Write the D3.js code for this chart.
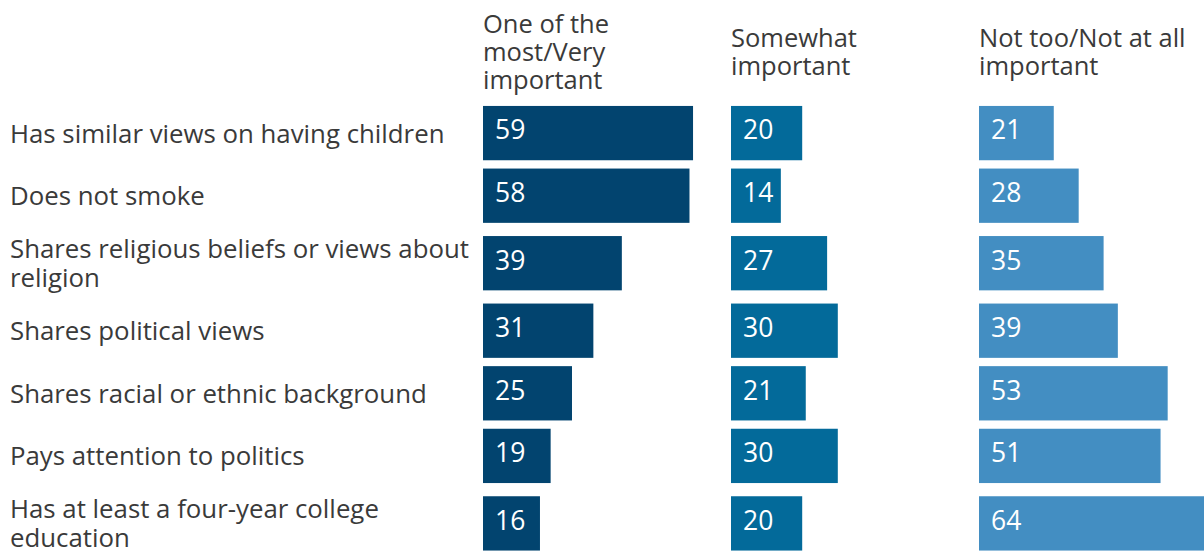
<!DOCTYPE html>
<html>
<head>
<meta charset="utf-8">
<script src="https://cdn.jsdelivr.net/npm/d3@7"></script>
<style>
  html, body { margin: 0; padding: 0; background: #fff; }
  svg { display: block; }
  text { font-family: "Open Sans", "Noto Sans", sans-serif; }
</style>
</head>
<body>
<svg id="chart" width="1204" height="551"></svg>
<script>
// Traits asked about (label lines split with \n)
const categories = [
  "Has similar views on having children",
  "Does not smoke",
  "Shares religious beliefs or views about\nreligion",
  "Shares political views",
  "Shares racial or ethnic background",
  "Pays attention to politics",
  "Has at least a four-year college\neducation"
];

// Column headings, one entry per series
const seriesLabels = [
  ["One of the", "most/Very", "important"],
  ["Somewhat", "important"],
  ["Not too/Not at all", "important"]
];

// Percent answering in each importance bucket
const veryImportant     = [59, 58, 39, 31, 25, 19, 16];
const somewhatImportant = [20, 14, 27, 30, 21, 30, 20];
const notImportant      = [21, 28, 35, 39, 53, 51, 64];

const seriesValues = [veryImportant, somewhatImportant, notImportant];
const seriesColors = ["#02446f", "#036a9a", "#438ec2"];

const svg = d3.select("#chart");

// Layout
const labelX = 10;
const firstColX = 483;
const colStep = 248;
const barH = 54.3;
const rowTop = 101.8;
const rowH1 = 62.6;   // row with a one-line label
const rowH2 = 72.4;   // row with a two-line label
const labelLineH = 29.2;
const headLineH = 27.8;
const headMid = 61;

// Value scale shared by all three columns
const x = d3.scaleLinear().domain([0, 100]).range([0, 356]);

// Column position scale
const col = d3.scaleBand()
  .domain(d3.range(seriesLabels.length))
  .range([firstColX, firstColX + colStep * seriesLabels.length])
  .paddingInner(0).paddingOuter(0);

// Row geometry: rows with wrapped labels get more room
const rows = categories.map(c => c.split("\n"));
let acc = rowTop;
const rowInfo = rows.map(lines => {
  const h = lines.length > 1 ? rowH2 : rowH1;
  const info = { top: acc, h, mid: acc + h / 2, lines };
  acc += h;
  return info;
});

// Category labels
const capH = 18.8;
const lab = svg.append("g").attr("class", "labels");
rowInfo.forEach(r => {
  const t = lab.append("text")
    .attr("x", labelX)
    .attr("fill", "#3a3a3a")
    .attr("font-size", 25.8);
  const n = r.lines.length;
  r.lines.forEach((ln, i) => {
    const base = r.mid + capH / 2 + (i - (n - 1) / 2) * labelLineH;
    t.append("tspan").attr("x", labelX).attr("y", base).text(ln);
  });
});

// Column headings
const heads = svg.append("g").attr("class", "heads");
seriesLabels.forEach((lines, s) => {
  const t = heads.append("text")
    .attr("x", col(s))
    .attr("fill", "#3a3a3a")
    .attr("font-size", 25.5);
  const n = lines.length;
  lines.forEach((ln, i) => {
    t.append("tspan")
      .attr("x", col(s))
      .attr("y", headMid + (i - (n - 1) / 2) * headLineH)
      .text(ln);
  });
});

// Bars and in-bar values
seriesValues.forEach((vals, s) => {
  const g = svg.append("g").attr("transform", `translate(${col(s)},0)`);
  g.selectAll("rect")
    .data(vals)
    .join("rect")
    .attr("x", 0)
    .attr("y", (d, i) => rowInfo[i].mid - barH / 2)
    .attr("width", d => x(d))
    .attr("height", barH)
    .attr("fill", seriesColors[s]);
  g.selectAll("text")
    .data(vals)
    .join("text")
    .attr("x", 12)
    .attr("y", (d, i) => rowInfo[i].mid + 6.3)
    .attr("fill", "#ffffff")
    .attr("font-size", 26.5)
    .text(d => d);
});
</script>
</body>
</html>
